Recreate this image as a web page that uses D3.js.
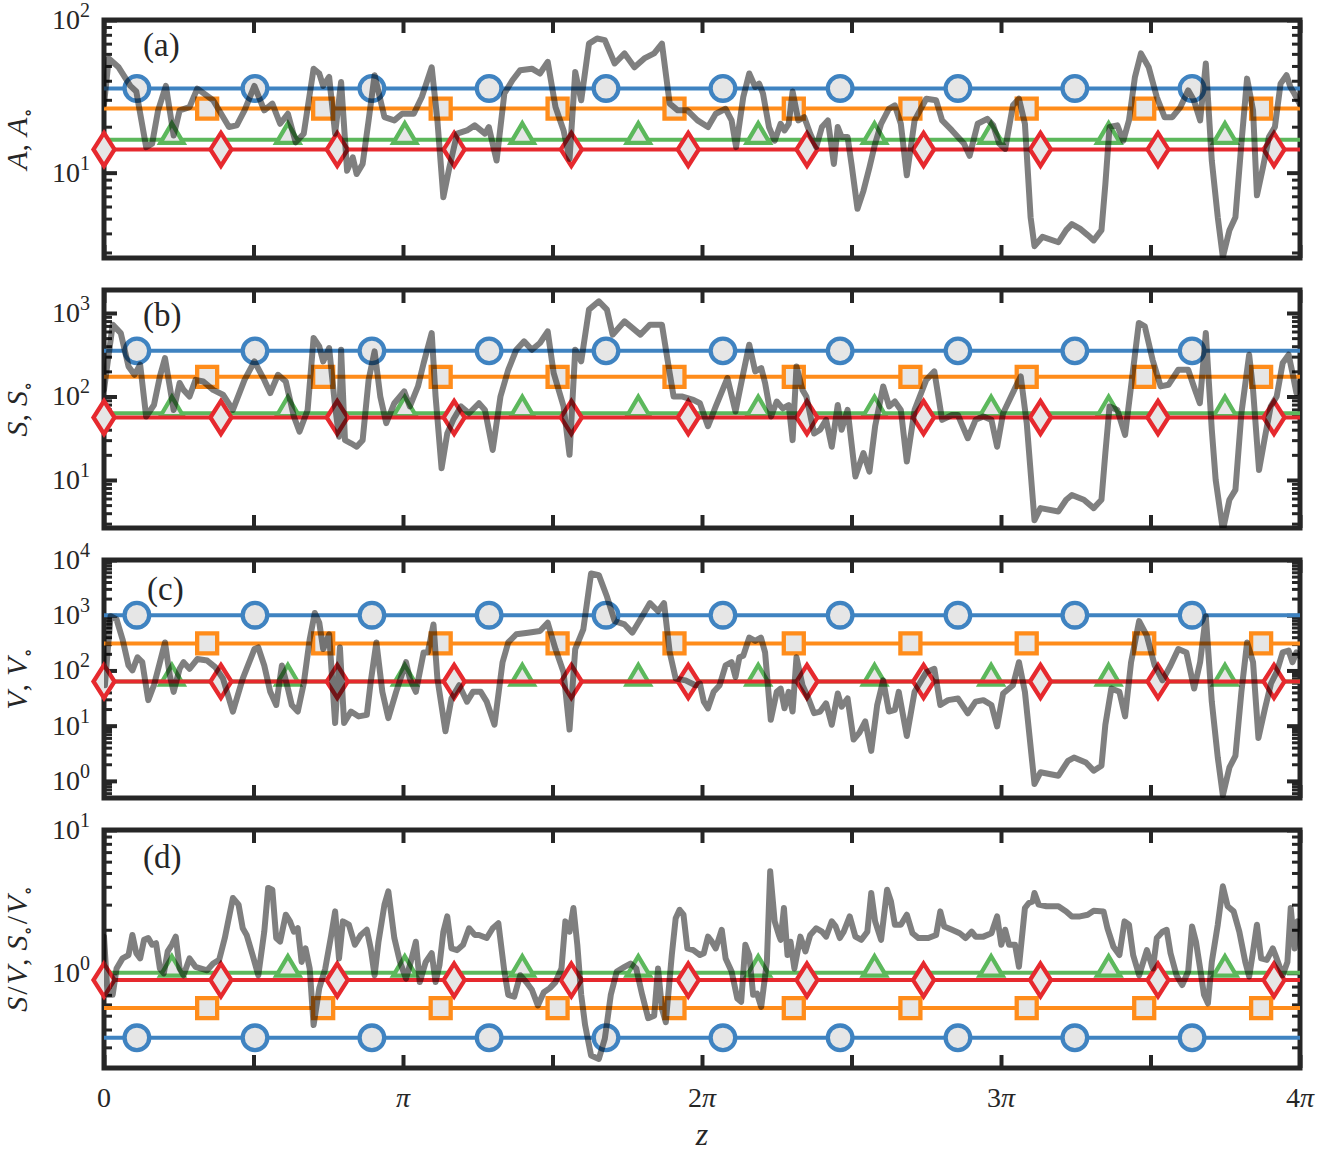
<!DOCTYPE html>
<html>
<head>
<meta charset="utf-8">
<script src="https://cdn.jsdelivr.net/npm/d3@7"></script>
<style>
  body { margin: 0; background: #fff; }
  text { font-family: "Liberation Serif", "DejaVu Serif", serif; fill: #262626; }
</style>
</head>
<body>
<script>
/** DATA (z given in units of pi) */
const xTickLabels = ["0", "π", "2π", "3π", "4π"];

// marker positions along z for each reference shape
const circleZ = [0.110, 0.505, 0.896, 1.288, 1.679, 2.070, 2.462, 2.856, 3.247, 3.639];
const squareZ = [0.345, 0.733, 1.126, 1.517, 1.908, 2.307, 2.697, 3.086, 3.479, 3.870];
const triangleZ = [0.227, 0.615, 1.006, 1.399, 1.787, 2.188, 2.577, 2.967, 3.360, 3.749];
const diamondZ = [0, 0.391, 0.780, 1.171, 1.563, 1.954, 2.351, 2.741, 3.132, 3.525, 3.913];

// constant reference levels: circle, square, triangle, diamond
const levelsA = [35.6, 26.3, 16.4, 14.2];
const levelsS = [352, 172, 63, 56];
const levelsV = [1000, 308, 63, 63];
const levelsSV = [0.35, 0.565, 1.0, 0.888];

// the fluctuating curve, [z/pi, value]
const curveA = [
  [0,28],[0.016,56],[0.049,49],[0.088,37],[0.108,34],[0.141,14.7],[0.161,15.5],[0.181,25.6],[0.207,37],[0.233,17.5],
  [0.253,25.6],[0.286,26.9],[0.312,35.5],[0.365,29.8],[0.418,19.9],[0.444,20.4],[0.470,25.6],[0.503,37],[0.536,25.6],[0.563,28.3],
  [0.589,20.9],[0.615,24.3],[0.641,15.8],[0.668,18],[0.701,48],[0.720,44.6],[0.733,37],[0.753,42.4],[0.773,18],[0.793,39.3],
  [0.813,10.3],[0.832,12.6],[0.845,9.8],[0.865,11.4],[0.885,22],[0.905,43.5],[0.938,23.1],[0.971,22],[0.997,24.3],[1.036,24.3],
  [1.063,31.3],[1.096,49],[1.115,22],[1.135,6.9],[1.155,10.8],[1.181,18],[1.214,18.9],[1.240,20.4],[1.274,18],[1.287,19.9],
  [1.313,12],[1.339,33],[1.366,40.3],[1.392,46.9],[1.431,48],[1.458,44.6],[1.484,53.2],[1.510,26.9],[1.537,18.9],[1.557,12.3],
  [1.576,45.7],[1.596,29.8],[1.622,70],[1.649,75.6],[1.675,73.8],[1.708,51.9],[1.741,60.4],[1.774,49],[1.807,56],[1.840,60.4],
  [1.866,70],[1.892,28.3],[1.919,25.6],[1.951,25.6],[1.985,22],[2.020,19.9],[2.046,24.3],[2.079,26.2],[2.099,22],[2.114,14.7],
  [2.138,31.3],[2.158,44.6],[2.178,36.4],[2.191,38.3],[2.204,33],[2.224,19.9],[2.243,16.2],[2.263,20.9],[2.276,18.9],[2.290,20.9],
  [2.303,34],[2.322,22],[2.342,23.1],[2.362,18],[2.382,14.7],[2.401,19.9],[2.421,22],[2.441,11.4],[2.454,19.9],[2.467,17.1],
  [2.487,17.1],[2.500,11.4],[2.520,5.8],[2.540,7.6],[2.560,10.8],[2.579,15.5],[2.599,20.9],[2.625,26.2],[2.645,27.6],[2.665,20.9],
  [2.685,9.6],[2.711,22],[2.750,30.5],[2.783,29.8],[2.803,22],[2.836,18.9],[2.876,15.5],[2.895,12.9],[2.922,20.9],[2.954,22.5],
  [2.974,20.4],[2.994,15.5],[3.014,14.3],[3.040,27.6],[3.060,30.5],[3.080,20.9],[3.099,5.1],[3.112,3.3],[3.139,3.8],[3.192,3.5],
  [3.218,4.2],[3.237,4.6],[3.264,4.3],[3.290,3.9],[3.310,3.6],[3.336,4.2],[3.349,8.4],[3.363,19.9],[3.389,20.4],[3.409,16.2],
  [3.428,22],[3.448,42.4],[3.468,60.4],[3.494,49],[3.521,31.3],[3.547,23.1],[3.573,23.1],[3.600,26.9],[3.626,34.6],[3.645,29.8],
  [3.666,22],[3.685,51.9],[3.705,12],[3.725,5.1],[3.742,2.8],[3.764,4.2],[3.784,5.1],[3.804,15.5],[3.823,41.3],[3.843,25.6],
  [3.856,7.1],[3.876,10.8],[3.896,17.1],[3.916,19.9],[3.935,38.3],[3.955,43.5],[3.968,36.4],[3.981,33],[4.0,28]
];
const curveS = [
  [0,120],[0.029,724],[0.056,575],[0.082,229],[0.102,182],[0.121,240],[0.141,57.5],[0.167,79],[0.187,174],[0.204,288],
  [0.220,132],[0.233,69],[0.253,145],[0.266,120],[0.286,100],[0.306,158],[0.332,151],[0.365,120],[0.398,105],[0.431,69],
  [0.470,158],[0.503,263],[0.536,158],[0.556,110],[0.582,182],[0.608,151],[0.635,57.5],[0.654,38],[0.681,69],[0.701,501],
  [0.720,398],[0.733,263],[0.753,380],[0.773,76],[0.786,33],[0.793,363],[0.806,30],[0.826,27.5],[0.845,25],[0.865,30],
  [0.885,158],[0.905,347],[0.924,100],[0.944,48],[0.971,83],[1.004,115],[1.023,76],[1.050,132],[1.069,251],[1.096,575],
  [1.109,100],[1.129,13.8],[1.148,36],[1.168,52.5],[1.194,76],[1.221,63],[1.254,83],[1.274,69],[1.300,22.9],[1.326,100],
  [1.352,209],[1.379,363],[1.405,457],[1.431,363],[1.458,437],[1.484,603],[1.504,190],[1.537,76],[1.557,20],[1.576,363],
  [1.596,263],[1.622,1096],[1.655,1380],[1.682,1096],[1.701,550],[1.741,794],[1.794,550],[1.826,724],[1.866,724],[1.892,190],
  [1.905,100],[1.932,100],[1.971,91],[1.993,83],[2.020,44],[2.046,76],[2.085,166],[2.112,66],[2.138,190],[2.158,417],
  [2.178,200],[2.198,219],[2.211,145],[2.231,57.5],[2.250,87],[2.270,72],[2.290,79],[2.303,30],[2.316,229],[2.336,120],
  [2.349,100],[2.375,36],[2.395,40],[2.415,52.5],[2.434,25],[2.454,79],[2.467,40],[2.487,69],[2.513,11],[2.540,21],
  [2.560,12.6],[2.579,44],[2.606,132],[2.626,76],[2.645,87],[2.665,69],[2.685,16.6],[2.711,69],[2.750,158],[2.777,200],
  [2.803,52.5],[2.836,60],[2.856,60],[2.889,31.6],[2.915,52.5],[2.941,57.5],[2.968,52.5],[2.987,25],[3.007,63],[3.047,126],
  [3.066,174],[3.086,48],[3.112,3.3],[3.132,4.6],[3.192,4.2],[3.218,5.8],[3.237,6.6],[3.277,5.8],[3.310,4.6],[3.336,5.8],
  [3.349,21],[3.363,76],[3.389,69],[3.415,34.7],[3.435,132],[3.461,759],[3.481,692],[3.507,275],[3.534,132],[3.560,138],
  [3.593,209],[3.626,209],[3.645,132],[3.665,83],[3.685,575],[3.705,40],[3.718,10],[3.742,2.5],[3.764,5.8],[3.784,7.6],
  [3.804,63],[3.830,316],[3.843,120],[3.863,13.2],[3.883,33],[3.902,76],[3.922,100],[3.942,251],[3.962,316],[3.975,190],
  [3.988,110],[4.0,150]
];
const curveV = [
  [0.003,54],[0.022,960],[0.042,837],[0.062,367],[0.082,123],[0.095,100],[0.112,173],[0.128,141],[0.148,29],[0.167,54],
  [0.187,141],[0.204,321],[0.220,81.5],[0.233,41],[0.253,107],[0.266,141],[0.286,107],[0.312,161],[0.345,151],[0.372,115],
  [0.398,71],[0.431,18],[0.464,71],[0.503,244],[0.516,261],[0.536,123],[0.556,41],[0.576,23.7],[0.595,123],[0.615,47],
  [0.628,23.7],[0.648,18],[0.668,58],[0.688,367],[0.705,1100],[0.720,730],[0.733,244],[0.753,452],[0.773,11.2],[0.789,261],
  [0.803,11.2],[0.826,18],[0.852,14.7],[0.879,15.7],[0.892,62],[0.911,321],[0.931,41],[0.951,13.7],[0.977,41],[1.010,141],
  [1.023,71],[1.043,41],[1.069,212],[1.083,212],[1.102,681],[1.115,71],[1.142,7.9],[1.162,31],[1.188,54],[1.214,27.2],
  [1.234,41],[1.260,41],[1.280,27.2],[1.306,10.4],[1.333,141],[1.352,321],[1.379,452],[1.418,483],[1.458,518],[1.484,730],
  [1.510,244],[1.537,93],[1.557,8.5],[1.576,244],[1.603,555],[1.629,5700],[1.655,5320],[1.682,2180],[1.708,782],[1.741,681],
  [1.767,483],[1.800,960],[1.826,1660],[1.853,1180],[1.873,1660],[1.892,212],[1.912,71],[1.945,66],[1.978,54],[1.993,58],
  [2.006,27.2],[2.020,20.6],[2.039,41],[2.059,54],[2.079,123],[2.099,141],[2.112,76],[2.125,173],[2.138,185],[2.158,393],
  [2.178,343],[2.197,393],[2.211,212],[2.230,12.8],[2.250,41],[2.263,47],[2.276,20.6],[2.290,41],[2.303,18],[2.316,173],
  [2.336,54],[2.356,31],[2.375,16.8],[2.395,18],[2.415,25.4],[2.434,10.4],[2.454,38.3],[2.467,22.1],[2.487,31],[2.507,5.6],
  [2.526,7.4],[2.546,11.9],[2.566,3.5],[2.586,23.7],[2.606,66],[2.625,18],[2.645,19.3],[2.658,41],[2.685,6.5],[2.711,41],
  [2.750,93],[2.777,107],[2.797,23.7],[2.823,29],[2.856,31],[2.889,16.8],[2.915,27.2],[2.941,29],[2.968,23.7],[2.987,9.7],
  [3.007,38.3],[3.040,54],[3.060,141],[3.080,41],[3.112,0.88],[3.132,1.43],[3.192,1.24],[3.224,2.31],[3.244,2.65],[3.284,2.15],
  [3.310,1.53],[3.336,1.88],[3.349,10.4],[3.369,47],[3.396,41],[3.415,14.7],[3.435,141],[3.462,782],[3.488,422],[3.514,123],
  [3.540,66],[3.567,123],[3.593,244],[3.620,212],[3.646,47],[3.666,141],[3.685,960],[3.705,27.2],[3.725,2.65],[3.742,0.55],
  [3.764,1.75],[3.784,2.83],[3.804,41],[3.823,321],[3.843,141],[3.861,6.0],[3.883,20.6],[3.903,58],[3.922,93],[3.942,212],
  [3.962,228],[3.975,141],[3.988,212],[4.0,180]
];
const curveSV = [
  [0,1.79],[0.012,0.70],[0.029,0.70],[0.042,1.07],[0.062,1.26],[0.082,1.33],[0.095,1.84],[0.108,1.37],[0.121,1.26],[0.134,1.70],
  [0.148,1.75],[0.161,1.57],[0.174,1.61],[0.187,1.07],[0.200,0.99],[0.213,1.41],[0.227,1.57],[0.240,1.79],[0.253,1.07],[0.266,0.96],
  [0.286,1.26],[0.306,1.10],[0.325,1.07],[0.345,1.04],[0.365,1.16],[0.385,1.23],[0.404,1.75],[0.431,3.34],[0.450,3.0],[0.464,2.05],
  [0.477,1.84],[0.497,1.33],[0.516,0.96],[0.536,1.94],[0.549,3.93],[0.563,3.82],[0.576,1.75],[0.589,1.65],[0.608,2.55],[0.622,2.29],
  [0.635,1.94],[0.648,2.05],[0.661,1.19],[0.674,1.48],[0.688,1.07],[0.701,0.43],[0.720,0.78],[0.740,1.07],[0.760,1.84],[0.773,2.69],
  [0.786,1.26],[0.799,2.29],[0.819,2.17],[0.839,1.57],[0.859,1.84],[0.879,2.0],[0.892,1.48],[0.905,0.96],[0.918,1.65],[0.938,3.0],
  [0.951,3.72],[0.971,1.75],[0.990,1.19],[1.010,0.91],[1.023,1.13],[1.043,1.65],[1.056,0.86],[1.076,1.19],[1.096,1.37],[1.109,0.86],
  [1.122,1.13],[1.135,1.94],[1.148,2.48],[1.162,1.48],[1.181,1.44],[1.201,1.57],[1.221,2.05],[1.240,1.84],[1.254,1.84],[1.280,1.75],
  [1.300,2.05],[1.319,2.22],[1.339,1.02],[1.352,0.70],[1.372,0.68],[1.392,0.96],[1.412,0.86],[1.431,0.76],[1.451,0.59],[1.471,0.73],
  [1.491,0.78],[1.510,0.86],[1.530,1.07],[1.543,2.29],[1.557,1.94],[1.570,2.84],[1.583,1.57],[1.596,0.70],[1.609,0.43],[1.629,0.263],
  [1.655,0.249],[1.675,0.345],[1.695,0.70],[1.715,1.02],[1.741,1.10],[1.761,1.16],[1.780,1.07],[1.800,0.70],[1.820,0.48],[1.840,0.50],
  [1.853,1.07],[1.866,0.56],[1.879,0.45],[1.899,1.33],[1.912,2.41],[1.925,2.76],[1.938,2.55],[1.951,1.48],[1.971,1.44],[1.993,1.33],
  [2.006,1.37],[2.020,1.79],[2.033,1.65],[2.046,1.48],[2.066,2.0],[2.079,1.26],[2.099,1.02],[2.118,0.66],[2.131,0.625],[2.145,1.57],
  [2.158,1.33],[2.171,0.70],[2.184,0.715],[2.198,0.576],[2.217,1.19],[2.228,5.14],[2.243,2.29],[2.257,1.84],[2.263,1.70],[2.274,2.84],
  [2.286,1.33],[2.296,1.65],[2.309,1.07],[2.329,1.79],[2.346,1.41],[2.362,1.84],[2.382,2.05],[2.401,1.94],[2.415,1.79],[2.434,2.29],
  [2.447,2.11],[2.461,1.75],[2.474,1.94],[2.494,2.48],[2.513,1.79],[2.533,1.70],[2.553,1.94],[2.566,3.62],[2.579,2.29],[2.599,1.70],
  [2.619,3.82],[2.632,3.16],[2.645,2.17],[2.665,2.17],[2.685,2.55],[2.704,1.89],[2.724,1.75],[2.757,1.75],[2.783,1.84],[2.797,2.69],
  [2.810,2.11],[2.836,2.0],[2.862,1.89],[2.882,1.75],[2.902,1.94],[2.915,1.79],[2.941,1.79],[2.968,1.89],[2.987,2.48],[3.001,1.57],
  [3.014,2.0],[3.027,1.57],[3.047,1.57],[3.060,1.10],[3.080,2.84],[3.093,3.08],[3.106,3.16],[3.112,3.62],[3.126,3.0],[3.152,2.92],
  [3.192,2.92],[3.218,2.69],[3.237,2.48],[3.264,2.48],[3.290,2.55],[3.310,2.72],[3.343,2.69],[3.356,2.05],[3.376,1.52],[3.396,1.33],
  [3.413,2.29],[3.428,2.17],[3.442,1.33],[3.462,0.96],[3.488,1.44],[3.508,1.07],[3.521,1.75],[3.540,1.94],[3.554,2.0],[3.567,1.37],
  [3.587,0.96],[3.606,0.82],[3.626,1.02],[3.639,2.11],[3.652,1.65],[3.666,1.07],[3.679,0.70],[3.692,0.61],[3.705,1.19],[3.725,2.17],
  [3.742,4.03],[3.758,2.92],[3.778,2.69],[3.797,1.94],[3.817,1.19],[3.830,0.94],[3.843,1.41],[3.856,2.17],[3.870,1.26],[3.889,1.23],
  [3.909,1.48],[3.922,1.26],[3.942,0.96],[3.958,1.19],[3.969,2.84],[3.982,1.48],[3.992,2.29]
];

/** LAYOUT AND STYLE */
const width = 1321, height = 1151;
const xLeft = 104, xRight = 1300, panelH = 238;
const frameColor = "#262626";
const seriesColors = ["#3f83c1", "#ff8c1a", "#5cb85c", "#e6292e"];
const seriesShapes = ["circle", "square", "triangle", "diamond"];
const seriesMarkerZ = [circleZ, squareZ, triangleZ, diamondZ];

const shapePath = {
  square: "M-10,-10h20v20h-20Z",
  triangle: "M0,-16.5L11.5,3L-11.5,3Z",
  diamond: "M0,-16.5L10.5,0L0,16.5L-10.5,0Z"
};

const panels = [
  { top: 20,  domain: [2.76, 100],  levels: levelsA,  curve: curveA,  tag: "(a)", tagX: 143, tagDy: 36,
    ylabel: [["A","i"],[",",""],["A","i",8],["∘","sub"]] },
  { top: 290, domain: [2.66, 1885], levels: levelsS,  curve: curveS,  tag: "(b)", tagX: 143, tagDy: 36,
    ylabel: [["S","i"],[",",""],["S","i",8],["∘","sub"]] },
  { top: 560, domain: [0.49, 1e4],  levels: levelsV,  curve: curveV,  tag: "(c)", tagX: 147, tagDy: 40,
    ylabel: [["V","i"],[",",""],["V","i",8],["∘","sub"]] },
  { top: 830, domain: [0.215, 10],  levels: levelsSV, curve: curveSV, tag: "(d)", tagX: 143, tagDy: 38,
    ylabel: [["S","i"],["/","",2],["V","i",2],[",",""],["S","i",8],["∘","sub"],["/","",2],["V","i",2],["∘","sub"]] }
];

const svg = d3.select("body").append("svg")
  .attr("width", width)
  .attr("height", height);

const x = d3.scaleLinear().domain([0, 4 * Math.PI]).range([xLeft, xRight]);
const xTicks = d3.range(0, 9).map(k => k * Math.PI / 2);

panels.forEach((p, i) => {
  const bottom = p.top + panelH;
  const y = d3.scaleLog().domain(p.domain).range([bottom, p.top]);
  const g = svg.append("g");

  // log ticks
  const lo = Math.log10(p.domain[0]), hi = Math.log10(p.domain[1]);
  const majors = [], minors = [];
  for (let e = Math.floor(lo); e <= Math.floor(hi); e++) {
    if (e >= lo - 1e-9) majors.push(Math.pow(10, e));
    for (let m = 2; m <= 9; m++) {
      const v = m * Math.pow(10, e);
      if (v >= p.domain[0] && v <= p.domain[1]) minors.push(v);
    }
  }

  const clipId = "clip" + i;
  svg.append("clipPath").attr("id", clipId)
    .append("rect").attr("x", xLeft).attr("y", p.top).attr("width", xRight - xLeft).attr("height", panelH);

  // frame and ticks
  const axes = g.append("g").attr("color", frameColor);
  const styleTicks = (sel, w) => {
    sel.select(".domain").remove();
    sel.selectAll(".tick line").attr("stroke-width", w);
  };
  axes.append("g").attr("transform", `translate(${xLeft},0)`)
    .call(d3.axisLeft(y).tickValues(majors).tickSize(-13).tickFormat("")).call(styleTicks, 4);
  axes.append("g").attr("transform", `translate(${xLeft},0)`)
    .call(d3.axisLeft(y).tickValues(minors).tickSize(-8).tickFormat("")).call(styleTicks, 3);
  axes.append("g").attr("transform", `translate(${xRight},0)`)
    .call(d3.axisRight(y).tickValues(majors).tickSize(-13).tickFormat("")).call(styleTicks, 4);
  axes.append("g").attr("transform", `translate(${xRight},0)`)
    .call(d3.axisRight(y).tickValues(minors).tickSize(-8).tickFormat("")).call(styleTicks, 3);
  axes.append("g").attr("transform", `translate(0,${bottom})`)
    .call(d3.axisBottom(x).tickValues(xTicks).tickSize(-13).tickFormat("")).call(styleTicks, 4);
  axes.append("g").attr("transform", `translate(0,${p.top})`)
    .call(d3.axisTop(x).tickValues(xTicks).tickSize(-13).tickFormat("")).call(styleTicks, 4);

  g.append("rect")
    .attr("x", xLeft).attr("y", p.top)
    .attr("width", xRight - xLeft).attr("height", panelH)
    .attr("fill", "none").attr("stroke", frameColor).attr("stroke-width", 5);

  // y tick labels 10^n
  majors.forEach(v => {
    const t = g.append("text")
      .attr("x", xLeft - 14).attr("y", y(v) + 9)
      .attr("text-anchor", "end").attr("font-size", 28);
    t.append("tspan").text("10");
    t.append("tspan").attr("dy", -12).attr("font-size", 20).text(Math.round(Math.log10(v)));
  });

  // y axis label
  const yl = g.append("text")
    .attr("transform", `translate(27,${p.top + panelH / 2}) rotate(-90)`)
    .attr("text-anchor", "middle").attr("font-size", 30);
  let shift = 0;
  p.ylabel.forEach(([txt, st, gap]) => {
    const ts = yl.append("tspan").text(txt);
    const target = st === "sub" ? 7 : 0;
    if (target !== shift) { ts.attr("dy", target - shift); shift = target; }
    if (gap) ts.attr("dx", gap);
    if (st === "i") ts.attr("font-style", "italic");
    if (st === "sub") ts.attr("font-size", 19);
  });

  // panel tag
  g.append("text").attr("x", p.tagX).attr("y", p.top + p.tagDy)
    .attr("font-size", 33).text(p.tag);

  // reference levels with markers
  p.levels.forEach((lv, s) => {
    g.append("line")
      .attr("clip-path", `url(#${clipId})`)
      .attr("x1", x(0)).attr("x2", x(4 * Math.PI))
      .attr("y1", y(lv)).attr("y2", y(lv))
      .attr("stroke", seriesColors[s]).attr("stroke-width", 4);
    const mk = g.append("g").selectAll("g")
      .data(seriesMarkerZ[s])
      .join("g")
      .attr("transform", z => `translate(${x(z * Math.PI)},${y(lv)})`);
    if (seriesShapes[s] === "circle") {
      mk.append("circle").attr("r", 12.3);
    } else {
      mk.append("path").attr("d", shapePath[seriesShapes[s]]);
    }
    mk.selectAll("circle, path")
      .attr("fill", "#e6e6e6")
      .attr("stroke", seriesColors[s])
      .attr("stroke-width", 4.3)
      .attr("stroke-linejoin", "miter");
  });

  // fluctuating curve on top, semi-transparent
  const line = d3.line()
    .x(d => x(d[0] * Math.PI))
    .y(d => y(d[1]));
  g.append("path")
    .datum(p.curve)
    .attr("clip-path", `url(#${clipId})`)
    .attr("d", line)
    .attr("fill", "none")
    .attr("stroke", "#000")
    .attr("stroke-opacity", 0.5)
    .attr("stroke-width", 6)
    .attr("stroke-linejoin", "round")
    .attr("stroke-linecap", "round");
});

// x tick labels
const lastBottom = panels[3].top + panelH;
xTickLabels.forEach((lab, k) => {
  const t = svg.append("text")
    .attr("x", x(k * Math.PI)).attr("y", lastBottom + 39)
    .attr("text-anchor", "middle").attr("font-size", 28);
  if (lab.length > 1) {
    t.append("tspan").text(lab.slice(0, -1));
    t.append("tspan").attr("font-style", "italic").text("π");
  } else if (lab === "π") {
    t.append("tspan").attr("font-style", "italic").text("π");
  } else {
    t.text(lab);
  }
});

svg.append("text")
  .attr("x", x(2 * Math.PI)).attr("y", 1145)
  .attr("text-anchor", "middle").attr("font-size", 32)
  .attr("font-style", "italic").text("z");
</script>
</body>
</html>
